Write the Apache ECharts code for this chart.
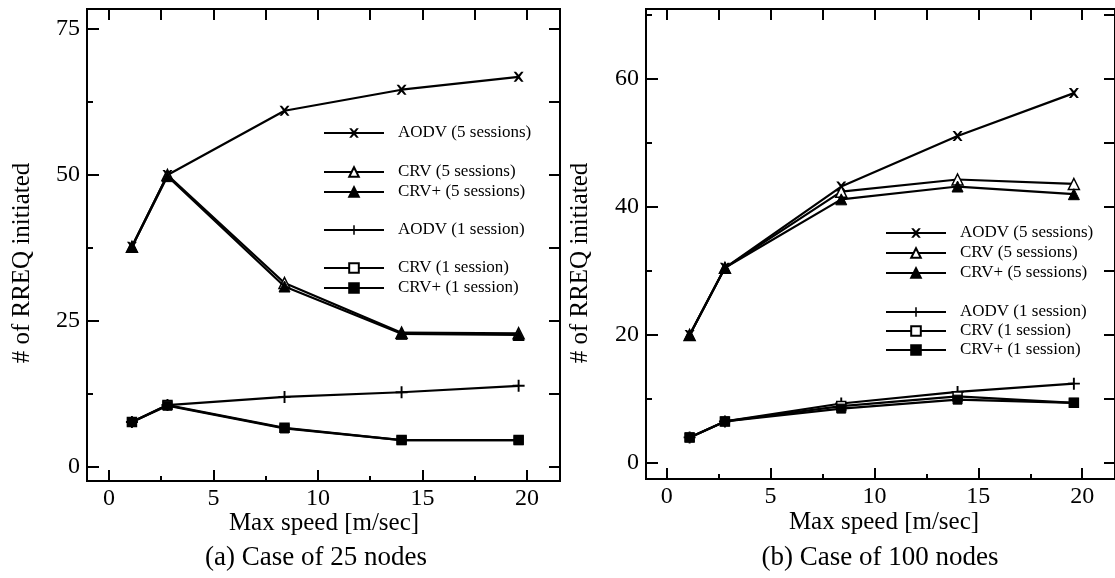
<!DOCTYPE html>
<html>
<head>
<meta charset="utf-8">
<script src="https://cdn.jsdelivr.net/npm/echarts@6/dist/echarts.min.js"></script>
<style>
html,body{margin:0;padding:0;background:#fff;}
#c{width:1115px;height:578px;}
</style>
</head>
<body>
<div id="c"></div>
<script>
// ---- data ----
const speeds = [1.1, 2.8, 8.4, 14, 19.6];

// (a) 25 nodes
const a_aodv5 = [37.7, 50.0, 61.0, 64.6, 66.8];
const a_crv5  = [37.7, 50.0, 31.5, 23.0, 22.9];
const a_crvp5 = [37.7, 49.8, 30.9, 22.8, 22.6];
const a_aodv1 = [7.7, 10.6, 12.0, 12.8, 13.9];
const a_crv1  = [7.7, 10.6, 6.7, 4.6, 4.6];
const a_crvp1 = [7.7, 10.5, 6.6, 4.6, 4.6];

// (b) 100 nodes
const b_aodv5 = [20.0, 30.5, 43.2, 51.1, 57.8];
const b_crv5  = [20.0, 30.5, 42.4, 44.3, 43.6];
const b_crvp5 = [20.0, 30.5, 41.2, 43.2, 42.0];
const b_aodv1 = [4.0, 6.5, 9.3, 11.1, 12.4];
const b_crv1  = [4.0, 6.5, 8.9, 10.4, 9.4];
const b_crvp1 = [4.0, 6.5, 8.5, 9.9, 9.4];

const names = ['AODV (5 sessions)', 'CRV (5 sessions)', 'CRV+ (5 sessions)',
               'AODV (1 session)', 'CRV (1 session)', 'CRV+ (1 session)'];

const xTicksMajor = [0, 5, 10, 15, 20];
const xTicksMinor = [2.5, 7.5, 12.5, 17.5];
const xTicksAll = [0, 2.5, 5, 7.5, 10, 12.5, 15, 17.5, 20];
const aYMajor = [0, 25, 50, 75];
const aYMinor = [12.5, 37.5, 62.5];
const aYAll = [0, 12.5, 25, 37.5, 50, 62.5, 75];
const bYMajor = [0, 20, 40, 60];
const bYMinor = [10, 30, 50, 70];
const bYAll = [0, 10, 20, 30, 40, 50, 60, 70];

const captions = ['(a) Case of 25 nodes', '(b) Case of 100 nodes'];
const xTitle = 'Max speed [m/sec]';
const yTitle = '# of RREQ initiated';

// ---- styles ----
const FONT = "'Liberation Serif','Times New Roman',serif";
const SYM_X = 'path://M0,0 L2.4,0 L5,3 L7.6,0 L10,0 L6.3,5 L10,10 L7.6,10 L5,7 L2.4,10 L0,10 L3.7,5 Z';
const SYM_PLUS = 'path://M4.2,0 H5.8 V4.2 H10 V5.8 H5.8 V10 H4.2 V5.8 H0 V4.2 H4.2 Z';
const styles = [
  {symbol: SYM_X, symbolSize: 10, itemStyle: {color: '#000'}},
  {symbol: 'triangle', symbolSize: 11, itemStyle: {color: '#fff', borderColor: '#000', borderWidth: 1.5}},
  {symbol: 'triangle', symbolSize: 11, itemStyle: {color: '#000', borderColor: '#000', borderWidth: 1}},
  {symbol: SYM_PLUS, symbolSize: 12, itemStyle: {color: '#000'}},
  {symbol: 'rect', symbolSize: 9, itemStyle: {color: '#fff', borderColor: '#000', borderWidth: 1.5}},
  {symbol: 'rect', symbolSize: 9, itemStyle: {color: '#000', borderColor: '#000', borderWidth: 1}}
];

function pts(v) { return speeds.map((s, i) => [s, v[i]]); }

const setA = [a_aodv5, a_crv5, a_crvp5, a_aodv1, a_crv1, a_crvp1];
const setB = [b_aodv5, b_crv5, b_crvp5, b_aodv1, b_crv1, b_crvp1];

function mkX(grid, min, max, pos, ticks, len, labels) {
  return {
    type: 'value', gridIndex: grid, min: min, max: max, position: pos,
    axisLine: {show: false, onZero: false},
    splitLine: {show: false},
    axisTick: {show: true, inside: true, length: len, customValues: ticks, lineStyle: {color: '#000', width: 2}},
    axisLabel: labels ? {show: true, customValues: labels, color: '#000', fontFamily: FONT, fontSize: 24, margin: 6} : {show: false}
  };
}
function mkY(grid, min, max, pos, ticks, len, labels) {
  return {
    type: 'value', gridIndex: grid, min: min, max: max, position: pos,
    axisLine: {show: false, onZero: false},
    splitLine: {show: false},
    axisTick: {show: true, inside: true, length: len, customValues: ticks, lineStyle: {color: '#000', width: 2}},
    axisLabel: labels ? {show: true, customValues: labels, color: '#000', fontFamily: FONT, fontSize: 24, margin: 7} : {show: false}
  };
}

const aXMin = -1.05, aXMax = 21.58, bXMin = -1.0, bXMax = 21.58;
const aYMin = -2.4, aYMax = 78.42, bYMin = -2.5, bYMax = 70.94;

const xAxes = [
  mkX(0, aXMin, aXMax, 'bottom', xTicksMajor, 11, xTicksMajor),
  mkX(0, aXMin, aXMax, 'bottom', xTicksMinor, 5, null),
  mkX(0, aXMin, aXMax, 'top', xTicksAll, 11, null),
  mkX(1, bXMin, bXMax, 'bottom', xTicksMajor, 11, xTicksMajor),
  mkX(1, bXMin, bXMax, 'bottom', xTicksMinor, 5, null),
  mkX(1, bXMin, bXMax, 'top', xTicksAll, 11, null)
];
const yAxes = [
  mkY(0, aYMin, aYMax, 'left', aYMajor, 12, aYMajor),
  mkY(0, aYMin, aYMax, 'left', aYMinor, 6, null),
  mkY(0, aYMin, aYMax, 'right', aYAll, 11, null),
  mkY(1, bYMin, bYMax, 'left', bYMajor, 12, bYMajor),
  mkY(1, bYMin, bYMax, 'left', bYMinor, 6, null),
  mkY(1, bYMin, bYMax, 'right', bYAll, 11, null)
];

const series = [];
[setA, setB].forEach((set, g) => {
  set.forEach((vals, i) => {
    series.push(Object.assign({
      name: names[i], type: 'line', xAxisIndex: g * 3, yAxisIndex: g * 3,
      data: pts(vals), showSymbol: true, animation: false,
      lineStyle: {color: '#000', width: 2.2},
      emphasis: {disabled: true}, z: 2 + i
    }, JSON.parse(JSON.stringify(styles[i]))));
  });
});

function legend(left, top, data, gap) {
  return {
    left: left, top: top, orient: 'vertical', padding: 0, itemGap: gap,
    itemWidth: 60, itemHeight: 12, selectedMode: false, data: data,
    textStyle: {color: '#000', fontFamily: FONT, fontSize: 17, lineHeight: 17, padding: [0, 0, 0, 9]}
  };
}

const legends = [
  legend(323, 133 - 8.5, [names[0]], 3),
  legend(323, 172 - 8.5, [names[1], names[2]], 3),
  legend(323, 230 - 8.5, [names[3]], 3),
  legend(323, 268 - 8.5, [names[4], names[5]], 3),
  legend(885, 233 - 8.5, [names[0], names[1], names[2]], 3),
  legend(885, 312 - 8.5, [names[3], names[4], names[5]], 2)
];

function txt(x, y, s, size, rot) {
  return {
    type: 'text', x: x, y: y, rotation: rot || 0,
    style: {text: s, fill: '#000', font: size + 'px ' + FONT, align: 'center', verticalAlign: 'middle'}
  };
}

const option = {
  backgroundColor: '#fff',
  animation: false,
  grid: [
    {left: 87, top: 9, width: 473, height: 472, show: true, borderColor: '#000', borderWidth: 2, backgroundColor: 'transparent'},
    {left: 646, top: 9, width: 473, height: 470, show: true, borderColor: '#000', borderWidth: 2, backgroundColor: 'transparent'}
  ],
  xAxis: xAxes,
  yAxis: yAxes,
  legend: legends,
  series: series,
  graphic: [
    txt(22, 263, yTitle, 25, Math.PI / 2),
    txt(580, 263, yTitle, 25, Math.PI / 2),
    txt(324, 523, xTitle, 25),
    txt(884, 522, xTitle, 25),
    txt(316, 558, captions[0], 27),
    txt(880, 558, captions[1], 27)
  ]
};

const chart = echarts.init(document.getElementById('c'), null, {renderer: 'canvas'});
chart.setOption(option);
</script>
</body>
</html>
